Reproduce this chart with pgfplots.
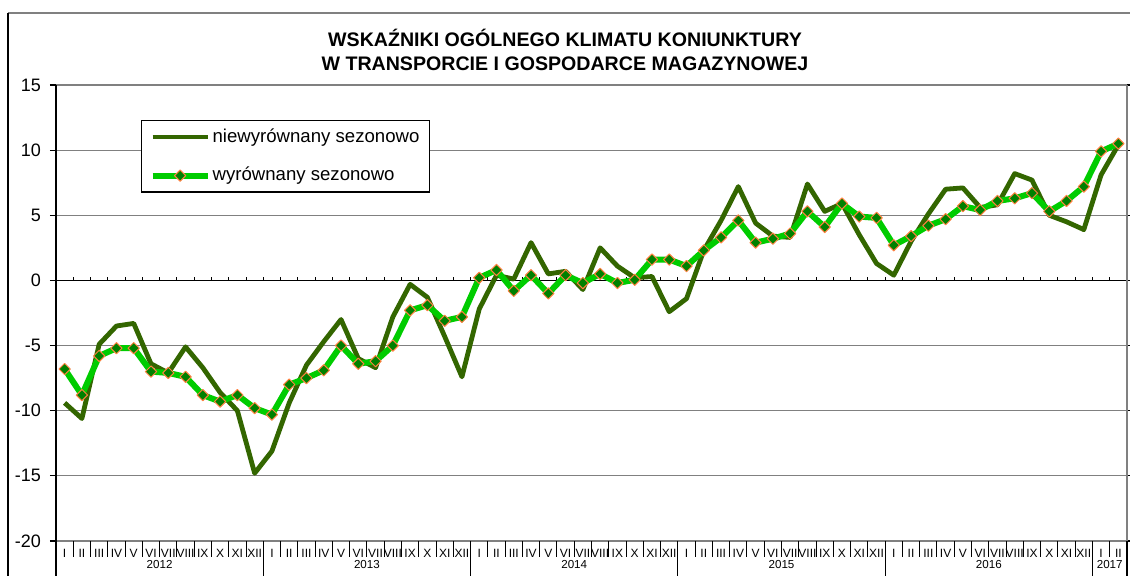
\documentclass[border=0pt]{standalone}
\usepackage{fontspec}
\setmainfont{Liberation Sans}
\usepackage{pgfplots}
\usepackage{pgfplotstable}
\pgfplotsset{compat=1.18}

\definecolor{dgreen}{RGB}{51,102,0}
\definecolor{lgreen}{RGB}{0,204,0}
\definecolor{mfill}{RGB}{0,128,0}
\definecolor{mdraw}{RGB}{255,128,64}
\definecolor{gridgray}{RGB}{128,128,128}

% x = month index + 0.5 (I 2012 ... II 2017), nsa = niewyrownany, sa = wyrownany
\pgfplotstableread{
x    nsa    sa
0.5  -9.4   -6.8
1.5  -10.6  -8.8
2.5  -4.9   -5.8
3.5  -3.5   -5.2
4.5  -3.3   -5.2
5.5  -6.4   -7.0
6.5  -7.1   -7.1
7.5  -5.1   -7.4
8.5  -6.7   -8.8
9.5  -8.6   -9.3
10.5 -10.0  -8.8
11.5 -14.8  -9.8
12.5 -13.1  -10.3
13.5 -9.4   -8.0
14.5 -6.5   -7.5
15.5 -4.7   -6.9
16.5 -3.0   -5.0
17.5 -6.0   -6.4
18.5 -6.7   -6.2
19.5 -2.8   -5.0
20.5 -0.3   -2.3
21.5 -1.3   -1.9
22.5 -4.3   -3.1
23.5 -7.4   -2.8
24.5 -2.2   0.2
25.5 0.4    0.8
26.5 0.1    -0.8
27.5 2.9    0.4
28.5 0.5    -1.0
29.5 0.7    0.4
30.5 -0.7   -0.2
31.5 2.5    0.5
32.5 1.1    -0.2
33.5 0.2    0.05
34.5 0.3    1.6
35.5 -2.4   1.6
36.5 -1.4   1.1
37.5 2.3    2.3
38.5 4.6    3.3
39.5 7.2    4.6
40.5 4.4    2.9
41.5 3.4    3.2
42.5 3.3    3.6
43.5 7.4    5.3
44.5 5.3    4.1
45.5 5.9    5.9
46.5 3.5    4.9
47.5 1.3    4.8
48.5 0.4    2.7
49.5 3.0    3.4
50.5 5.1    4.2
51.5 7.0    4.7
52.5 7.1    5.7
53.5 5.6    5.4
54.5 5.8    6.1
55.5 8.2    6.3
56.5 7.7    6.7
57.5 5.0    5.3
58.5 4.5    6.1
59.5 3.9    7.2
60.5 8.1    9.9
61.5 10.4   10.5
}\klimat

\begin{document}
\begin{tikzpicture}
\useasboundingbox (0,0) rectangle (565pt,288pt);
% outer chart frame (cut by the picture edge)
\draw[gridgray, line width=1pt] (4pt,281.5pt) -- (565pt,281.5pt);
\draw[black, line width=0.6pt] (4pt,281.5pt) -- (4pt,0pt);
\node[font=\bfseries\fontsize{9.8}{12}\selectfont, align=center, inner sep=0pt]
  at (282.5pt,263pt) {WSKAŹNIKI OGÓLNEGO KLIMATU KONIUNKTURY\\W TRANSPORCIE I GOSPODARCE MAGAZYNOWEJ};

\begin{axis}[
  at={(28pt,17.5pt)}, anchor=south west,
  scale only axis,
  width=535.5pt, height=228pt,
  xmin=0, xmax=62,
  ymin=-20, ymax=15,
  ytick={-20,-15,...,15},
  xtick={0.5,1.5,...,61.5},
  xticklabels={I,II,III,IV,V,VI,VII,VIII,IX,X,XI,XII,
               I,II,III,IV,V,VI,VII,VIII,IX,X,XI,XII,
               I,II,III,IV,V,VI,VII,VIII,IX,X,XI,XII,
               I,II,III,IV,V,VI,VII,VIII,IX,X,XI,XII,
               I,II,III,IV,V,VI,VII,VIII,IX,X,XI,XII,
               I,II},
  axis line style={draw=none},
  tick align=outside,
  major tick length=3pt,
  xtick style={draw=none},
  ytick style={black, line width=0.6pt},
  ymajorgrids,
  grid style={gridgray, line width=0.6pt},
  yticklabel style={font=\fontsize{9}{10}\selectfont, xshift=-1pt},
  xticklabel style={font=\fontsize{6}{6}\selectfont, anchor=center, yshift=-3.3pt},
  /pgf/number format/assume math mode=true,
  clip=false,
  legend style={at={(0.0794,0.9232)}, anchor=north west,
    draw=black, line width=0.6pt, fill=white,
    font=\fontsize{9.3}{11}\selectfont,
    inner xsep=4pt, inner ysep=3pt, row sep=9pt,
    nodes={inner sep=1pt}},
  legend cell align=left,
  legend image code/.code={%
    \draw[mark repeat=2, mark phase=2, #1]
      plot coordinates {(0pt,0pt) (13.75pt,0pt) (27.5pt,0pt)};},
]
% zero line with category ticks
\draw[black, line width=0.8pt] (axis cs:0,0) -- (axis cs:62,0);
\pgfplotsinvokeforeach{0,...,62}{
  \draw[black, line width=0.5pt] (axis cs:#1,0) -- ++(0pt,1.8pt);
  \draw[black, line width=0.5pt] (axis cs:#1,-20) -- ++(0pt,-8pt);
}
% year boundaries and frame sides
\pgfplotsinvokeforeach{0,12,24,36,48,60,62}{
  \draw[black, line width=0.6pt] (axis cs:#1,-20) -- ++(0pt,-17.5pt);
}
\draw[black, line width=0.6pt] (axis cs:0,15) -- (axis cs:0,-20);
\draw[gridgray, line width=0.8pt] (axis cs:62,15) -- (axis cs:62,-20);

\addplot[dgreen, line width=2.4pt, line join=round, no marks] table[x=x, y=nsa] {\klimat};
\addlegendentry{niewyrównany sezonowo}
\addplot[lgreen, line width=3pt, line join=round,
  mark=square*, mark size=2pt,
  mark options={rotate=45, fill=mfill, draw=mdraw, line width=0.5pt}]
  table[x=x, y=sa] {\klimat};
\addlegendentry{wyrównany sezonowo}

\node[font=\fontsize{5.8}{6}\selectfont] at (axis cs:6,-20) [yshift=-12pt] {2012};
\node[font=\fontsize{5.8}{6}\selectfont] at (axis cs:18,-20) [yshift=-12pt] {2013};
\node[font=\fontsize{5.8}{6}\selectfont] at (axis cs:30,-20) [yshift=-12pt] {2014};
\node[font=\fontsize{5.8}{6}\selectfont] at (axis cs:42,-20) [yshift=-12pt] {2015};
\node[font=\fontsize{5.8}{6}\selectfont] at (axis cs:54,-20) [yshift=-12pt] {2016};
\node[font=\fontsize{5.8}{6}\selectfont] at (axis cs:61,-20) [yshift=-12pt] {2017};
\end{axis}
\end{tikzpicture}
\end{document}
